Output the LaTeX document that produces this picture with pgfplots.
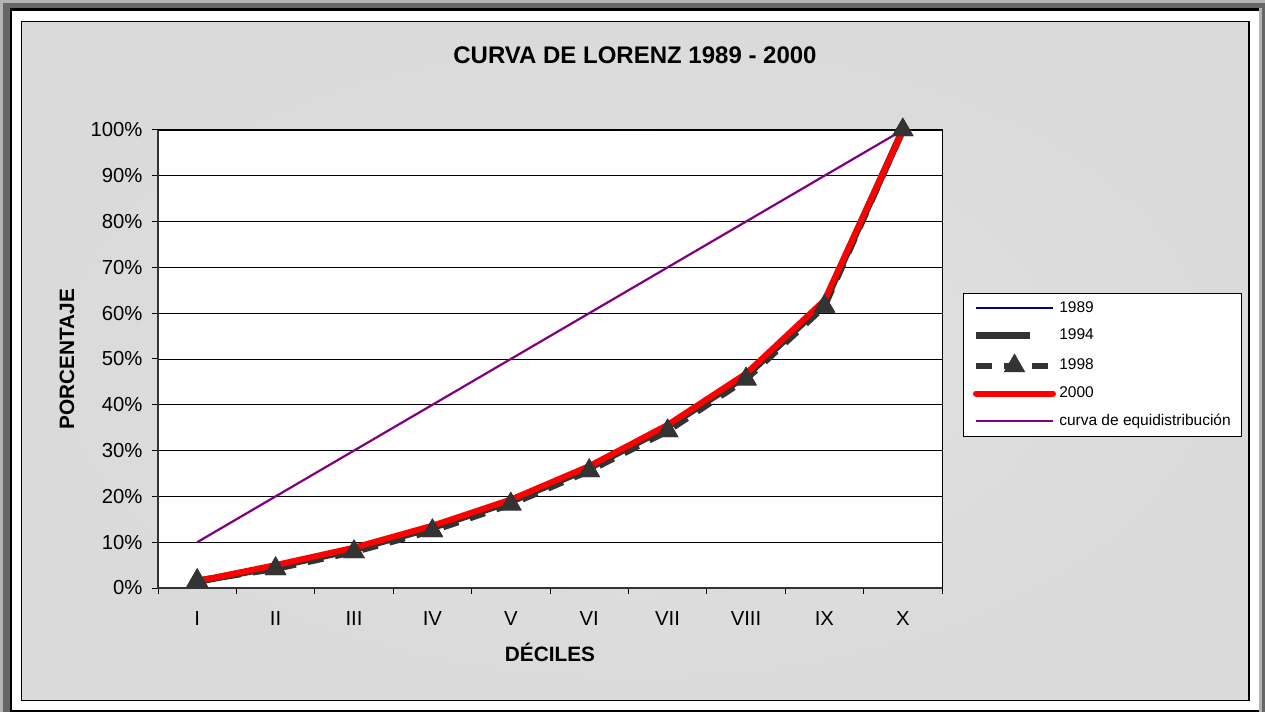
\documentclass[border=0pt]{standalone}
\usepackage{fontspec}
\setmainfont{Liberation Sans}
\usepackage{pgfplots}
\usepackage{pgfplotstable}
\pgfplotsset{compat=1.18}
\definecolor{dkgray}{HTML}{333333}
\definecolor{navyb}{HTML}{000080}
\definecolor{purp}{HTML}{800080}
\definecolor{chartbg}{HTML}{DADADA}
\definecolor{chartin}{HTML}{E2E2E2}
\definecolor{frameA}{HTML}{B4B4B4}
\definecolor{frameB}{HTML}{666666}
\pgfplotsset{shortlegend/.style={legend image code/.code={\draw[##1] (0pt,0pt) -- (54pt,0pt);}}}

\pgfplotstableread{
x y89 y94 y98 y00 eq
0 1.6 1.4 1.6 1.5 10
1 4.9 4.7 4.2 5.0 20
2 8.6 8.4 7.9 8.8 30
3 13.4 13.2 12.5 13.6 40
4 19.1 18.9 18.3 19.3 50
5 26.4 26.2 25.6 26.6 60
6 35.4 35.2 34.3 35.6 70
7 46.5 46.3 45.6 46.8 80
8 62.5 62.2 61.5 62.8 90
9 100 100 100 100 100
}\lorenz

\begin{document}
\begin{tikzpicture}[x=1pt,y=1pt]
% outer frame
\fill[frameA] (0,0) rectangle (1265,712);
\fill[frameB] (3,0) rectangle (1265,709);
\fill[black] (10,0) rectangle (1262,704);
\fill[white] (12,2) rectangle (1259,701);
\fill[frameA] (1259,0) rectangle (1262,704);
% chart area
\shade[inner color=chartin, outer color=chartbg] (21.5,11.5) rectangle (1249,690.5);
\draw[black, line width=1.5pt] (21.5,11.5) rectangle (1249,690.5);
% title
\node[anchor=base, font=\fontsize{24}{28}\bfseries\selectfont] at (635,648.7) {CURVA DE LORENZ 1989 - 2000};

\begin{axis}[
  at={(158pt,124pt)}, anchor=south west,
  scale only axis, width=784pt, height=458pt,
  xmin=-0.5, xmax=9.5, ymin=0, ymax=100,
  clip=false,
  axis background/.style={fill=white},
  axis line style={black, line width=1pt},
  xtick={0,...,9},
  xticklabels={I,II,III,IV,V,VI,VII,VIII,IX,X},
  minor xtick={-0.5,0.5,...,9.5},
  major x tick style={draw=none},
  ytick={0,10,...,100},
  yticklabel={\pgfmathprintnumber{\tick}\%},
  /pgf/number format/assume math mode=true,
  tick align=outside, tick pos=left,
  major tick length=6pt, minor tick length=6pt,
  tick style={black, line width=1pt},
  ymajorgrids,
  major grid style={black, line width=0.9pt},
  ticklabel style={font=\fontsize{20.3}{24}\selectfont},
  xticklabel style={yshift=-14pt},
  yticklabel style={xshift=-6pt},
  xlabel={DÉCILES},
  ylabel={PORCENTAJE},
  label style={font=\fontsize{20.8}{24}\bfseries\selectfont},
  xlabel style={at={(axis description cs:0.5,-0.1594)}, anchor=base},
  ylabel style={at={(axis description cs:-0.1071,0.5)}, anchor=base},
  legend cell align=left,
  legend image code/.code={\draw[mark repeat=2,mark phase=2,#1] plot coordinates {(0pt,0pt)(38.5pt,0pt)(77pt,0pt)};},
  legend style={at={(axis description cs:1.0268,0.6441)}, anchor=north west,
    draw=black, line width=1pt, fill=white,
    font=\fontsize{15.5}{18}\selectfont,
    row sep=8.5pt, column sep=1pt, inner xsep=9pt, inner ysep=5.5pt,
    nodes={inner sep=2pt, text height=11.5pt, text depth=3.5pt}},
]
\addplot[navyb, line width=2pt] table[x=x, y=y89] {\lorenz};
\addlegendentry{1989}
\addplot[dkgray, line width=7pt, shortlegend] table[x=x, y=y94] {\lorenz};
\addlegendentry{1994}
\addplot[dkgray, line width=6.5pt, dash pattern=on 16pt off 12pt,
  mark=triangle*, mark size=12pt, mark options={solid, fill=dkgray, draw=dkgray, line width=0.5pt}] table[x=x, y=y98] {\lorenz};
\addlegendentry{1998}
\addplot[red, line width=6pt, line cap=round] table[x=x, y=y00] {\lorenz};
\addlegendentry{2000}
\addplot[purp, line width=2.2pt] table[x=x, y=eq] {\lorenz};
\addlegendentry{curva de equidistribución}
\addplot[only marks, mark=triangle*, mark size=12pt, mark options={fill=dkgray, draw=dkgray, line width=0.5pt}, forget plot] table[x=x, y=y98] {\lorenz};
\draw[dkgray, line width=2.2pt] (axis description cs:0,1) -- (axis description cs:0,0) -- (axis description cs:1,0);
\end{axis}
\end{tikzpicture}
\end{document}
